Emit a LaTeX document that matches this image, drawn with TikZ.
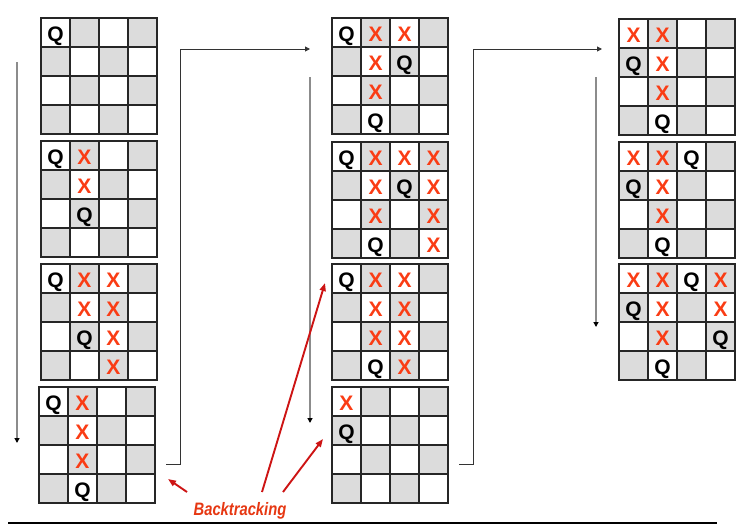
\documentclass[tikz,border=0pt]{standalone}
\usepackage{fontspec}
\newfontfamily\arialfont{Liberation Sans}
\usepackage{tikz}
\usetikzlibrary{arrows.meta, positioning, calc}
\tikzset{
    boardframe/.style={rectangle, draw=black!85, line width=1.1pt, minimum width=116pt, minimum height=116pt, inner sep=0pt},
    cellline/.style={draw=black!85, line width=1.1pt},
    queenmark/.style={anchor=base, font=\arialfont\bfseries\fontsize{21}{21}\selectfont, text=black, inner sep=0pt},
    crossmark/.style={anchor=base, font=\arialfont\bfseries\fontsize{21}{21}\selectfont, text=crossred, inner sep=0pt},
    flowdown/.style={-{Triangle[length=5pt, width=5pt, color=black]}, draw=flowgray, line width=1.3pt},
    jumpline/.style={-{Triangle[length=5pt, width=5pt]}, draw=black!80, line width=1pt},
    backarrow/.style={-{Triangle[length=8pt, width=6pt]}, draw=backred, line width=1.9pt},
    backlabel/.style={anchor=base, font=\arialfont\bfseries\itshape\fontsize{18}{18}\selectfont, text=crossred!92!black, inner sep=0pt}
}
\definecolor{cellgray}{RGB}{220,220,220}
\definecolor{crossred}{RGB}{250,60,20}
\definecolor{backred}{RGB}{205,20,20}
\definecolor{flowgray}{RGB}{140,140,140}

% board: name, left, top, queens (row/col), crosses (row/col)
\newcommand{\qboard}[5]{%
  \begin{scope}[shift={(#2,#3)}]
    \foreach \r in {0,...,3}
      \foreach \c in {0,...,3}{
        \pgfmathtruncatemacro{\odd}{mod(\r+\c,2)}
        \ifnum\odd=1 \fill[cellgray] (\c*29,\r*29) rectangle ++(29,29);\fi
      }
    \foreach \i in {1,2,3}{
      \draw[cellline] (\i*29,0) -- (\i*29,116);
      \draw[cellline] (0,\i*29) -- (116,\i*29);
    }
    \node[boardframe] (#1) at (58,58) {};
    \foreach \r/\c in {#4}
      \node[queenmark] at (\c*29+14.5,\r*29+23) {Q};
    \ifx\relax#5\relax\else
    \foreach \r/\c in {#5}
      \node[crossmark] at (\c*29+14.5,\r*29+23) {X};
    \fi
  \end{scope}
}

\begin{document}
\begin{tikzpicture}[x=1pt, y=-1pt]
\useasboundingbox (0,0) rectangle (745,525);

% first column
\qboard{a1}{41}{18}{0/0}{}
\qboard{a2}{41}{141}{0/0,2/1}{0/1,1/1}
\qboard{a3}{41}{264}{0/0,2/1}{0/1,0/2,1/1,1/2,2/2,3/2}
\qboard{a4}{39}{387}{0/0,3/1}{0/1,1/1,2/1}

% second column
\qboard{b1}{332}{18}{0/0,1/2,3/1}{0/1,0/2,1/1,2/1}
\qboard{b2}{332}{142}{0/0,1/2,3/1}{0/1,0/2,0/3,1/1,1/3,2/1,2/3,3/3}
\qboard{b3}{332}{264}{0/0,3/1}{0/1,0/2,1/1,1/2,2/1,2/2,3/2}
\qboard{b4}{332}{387}{1/0}{0/0}

% third column
\qboard{c1}{619}{19}{1/0,3/1}{0/0,0/1,1/1,2/1}
\qboard{c2}{619}{142}{0/2,1/0,3/1}{0/0,0/1,1/1,2/1}
\qboard{c3}{619}{264}{0/2,1/0,2/3,3/1}{0/0,0/1,0/3,1/1,1/3,2/1}

\coordinate (downa) at (17,62);
\coordinate (downaend) at (17,443);
\coordinate (downb) at (310,77);
\coordinate (downbend) at (310,423);
\coordinate (downc) at (596,77);
\coordinate (downcend) at (596,327);
\coordinate (jumpa) at (166,464);
\coordinate (jumpaturn) at (180,49);
\coordinate (jumpaend) at (310,49);
\coordinate (jumpb) at (459,464);
\coordinate (jumpbturn) at (473,49);
\coordinate (jumpbend) at (602,49);

\draw[flowdown] (downa) -- (downaend);
\draw[flowdown] (downb) -- (downbend);
\draw[flowdown] (downc) -- (downcend);
\draw[jumpline] (jumpa) -| (jumpaturn) -- (jumpaend);
\draw[jumpline] (jumpb) -| (jumpbturn) -- (jumpbend);

\node[backlabel] (back) at (240,515) {\scalebox{0.82}[1]{Backtracking}};
\coordinate (backa) at (187,492);
\coordinate (backb) at (262,492);
\coordinate (backc) at (283,492);
\coordinate (tipa) at (168,479);
\coordinate (tipb) at (325,283);
\coordinate (tipc) at (323,439);
\draw[backarrow] (backa) -- (tipa);
\draw[backarrow] (backb) -- (tipb);
\draw[backarrow] (backc) -- (tipc);

\draw[line width=2pt] (8,523) -- (717,523);

\end{tikzpicture}
\end{document}
